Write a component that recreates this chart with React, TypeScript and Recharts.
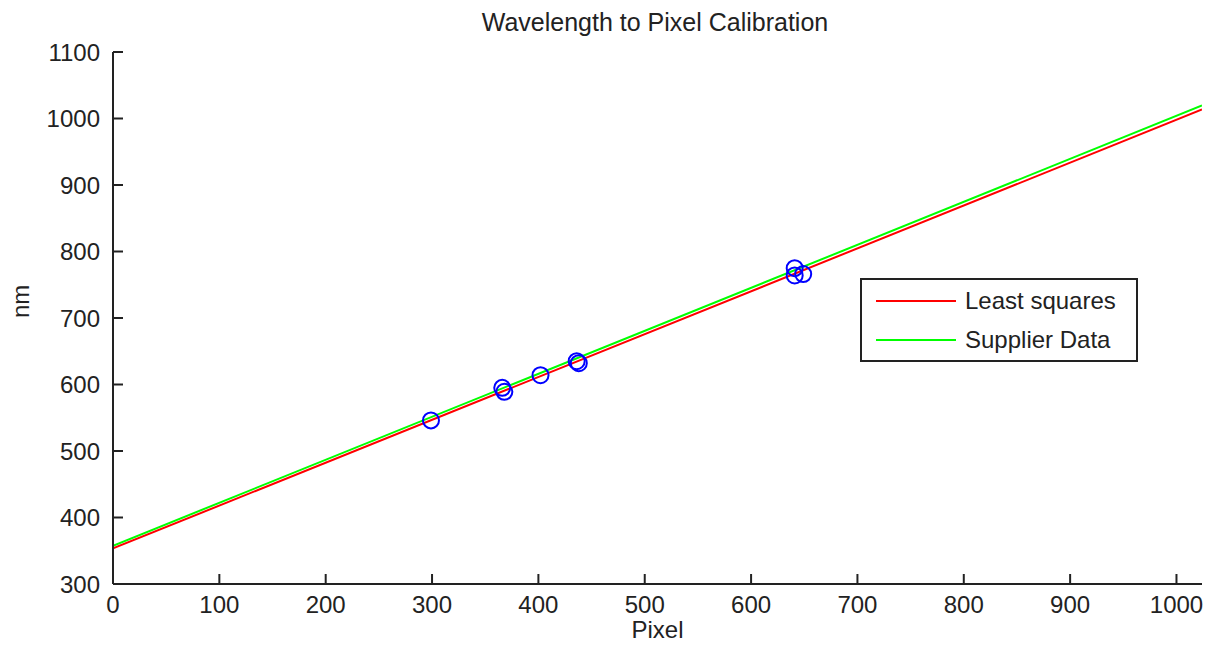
import { ComposedChart, Line, Scatter, XAxis, YAxis, Legend, Label } from "recharts";

// fitted calibration lines, evaluated at the ends of the sensor
const fitPixels = [0, 1024];
const leastSquares = [353.5, 1013.5];
const supplierData = [357.5, 1019.5];

// measured spectral lines (pixel, wavelength in nm)
const calPixels = [299, 366, 368, 402, 436, 438, 641, 641, 649];
const calNm = [546, 595, 589, 614, 635, 632, 775, 764, 766];

const xTicks = [0, 100, 200, 300, 400, 500, 600, 700, 800, 900, 1000];
const yTicks = [300, 400, 500, 600, 700, 800, 900, 1000, 1100];

const lsData = fitPixels.map((x, i) => ({ x, y: leastSquares[i] }));
const supData = fitPixels.map((x, i) => ({ x, y: supplierData[i] }));
const points = calPixels.map((x, i) => ({ x, y: calNm[i] }));

const FONT = "'Liberation Sans', Arial, sans-serif";
const INK = "#222";

const YTick = (props: any) => {
  const { x, y, payload } = props;
  return (
    <g>
      <line x1={x} y1={y} x2={x + 10} y2={y} stroke={INK} strokeWidth={2} />
      <text x={x - 13} y={y} textAnchor="end" dominantBaseline="central" fontSize={24} fontFamily={FONT} fill={INK}>
        {payload.value}
      </text>
    </g>
  );
};

const XTick = (props: any) => {
  const { x, y, payload } = props;
  return (
    <g>
      <line x1={x} y1={y} x2={x} y2={y - 10} stroke={INK} strokeWidth={2} />
      <text x={x} y={y + 20} textAnchor="middle" dominantBaseline="central" fontSize={24} fontFamily={FONT} fill={INK}>
        {payload.value}
      </text>
    </g>
  );
};

const Ring = (props: any) => (
  <circle cx={props.cx} cy={props.cy} r={8} fill="none" stroke="#0000ff" strokeWidth={2} />
);

const LegendBox = (props: any) => {
  const items = (props.payload || []).filter((p: any) => p.type !== "none");
  return (
    <div
      style={{
        width: 278,
        height: 84,
        border: `2px solid ${INK}`,
        background: "#fff",
        boxSizing: "border-box",
        fontFamily: FONT,
        fontSize: 24,
        color: INK,
        paddingTop: 1,
      }}
    >
      {items.map((p: any) => (
        <div key={p.value} style={{ display: "flex", alignItems: "center", height: 39 }}>
          <div style={{ width: 80, height: 2, background: p.color, marginLeft: 14, marginRight: 9 }} />
          <span>{p.value}</span>
        </div>
      ))}
    </div>
  );
};

export default function App() {
  return (
    <div style={{ position: "absolute", left: 0, top: 0, width: 1208, height: 653, background: "#fff" }}>
      <div
        style={{
          position: "absolute",
          left: 0,
          top: 10,
          width: 1310,
          textAlign: "center",
          fontFamily: FONT,
          fontSize: 25,
          lineHeight: "24px",
          color: INK,
        }}
      >
        Wavelength to Pixel Calibration
      </div>
      <ComposedChart width={1208} height={653} margin={{ top: 52, right: 6, bottom: 29, left: 0 }}>
        <XAxis
          type="number"
          dataKey="x"
          domain={[0, 1024]}
          ticks={xTicks}
          interval={0}
          allowDataOverflow
          height={40}
          tickSize={0}
          tickMargin={0}
          tick={<XTick />}
          axisLine={{ stroke: INK, strokeWidth: 2 }}
        >
          <Label value="Pixel" position="insideBottom" offset={-14} fontSize={24} fontFamily={FONT} fill={INK} />
        </XAxis>
        <YAxis
          type="number"
          dataKey="y"
          domain={[300, 1100]}
          ticks={yTicks}
          interval={0}
          allowDataOverflow
          width={113}
          tickSize={0}
          tickMargin={0}
          tick={<YTick />}
          axisLine={{ stroke: INK, strokeWidth: 2 }}
        >
          <Label value="nm" angle={-90} position="insideLeft" offset={20} fontSize={24} fontFamily={FONT} fill={INK} />
        </YAxis>
        <Legend
          layout="vertical"
          align="center"
          verticalAlign="middle"
          wrapperStyle={{ left: 860, top: 278, width: 278 }}
          content={<LegendBox />}
        />
        <Scatter name="points" data={points} shape={<Ring />} legendType="none" isAnimationActive={false} />
        <Line
          name="Least squares"
          data={lsData}
          dataKey="y"
          stroke="#ff0000"
          strokeWidth={2}
          dot={false}
          activeDot={false}
          isAnimationActive={false}
        />
        <Line
          name="Supplier Data"
          data={supData}
          dataKey="y"
          stroke="#00ff00"
          strokeWidth={2}
          dot={false}
          activeDot={false}
          isAnimationActive={false}
        />
      </ComposedChart>
    </div>
  );
}
